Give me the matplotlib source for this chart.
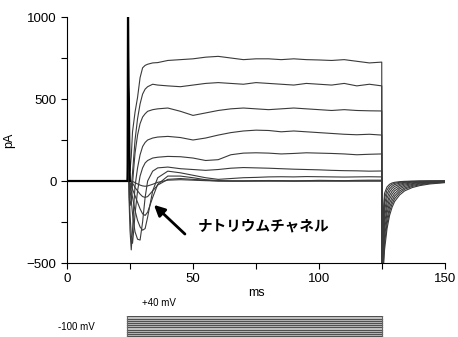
import numpy as np
import matplotlib.pyplot as plt
from matplotlib.ticker import MultipleLocator

# time points (ms)
t_pre = [0, 24]
t_on = [24, 24.3, 24.6, 25, 25.5, 26, 26.5, 27, 28, 29, 30, 31, 32, 34, 36, 40, 45,
        50, 55, 60, 65, 70, 75, 80, 85, 90, 95, 100, 105, 110, 115, 120, 124.9]
t_tail = [125, 125.3, 126, 127, 128, 129, 130, 132, 134, 137, 140, 144, 150]

# currents during the step (pA), one list per step voltage
on_currents = [
    [0, 1000, 200, 60, 150, 300, 360, 420, 510, 630, 690, 705, 712, 720, 722, 735, 740,
     745, 755, 760, 750, 740, 745, 745, 740, 745, 740, 738, 735, 740, 730, 720, 725],
    [0, 1000, 100, -60, -40, 50, 150, 250, 380, 470, 530, 560, 575, 590, 585, 580, 575,
     585, 595, 600, 595, 590, 600, 595, 590, 585, 595, 590, 585, 595, 580, 590, 580],
    [0, 800, 50, -150, -120, -20, 80, 170, 280, 350, 390, 410, 425, 435, 440, 445, 425,
     400, 415, 430, 440, 445, 440, 435, 440, 445, 440, 435, 430, 435, 430, 428, 427],
    [0, 600, -100, -300, -420, -300, -150, -30, 80, 160, 210, 235, 250, 262, 268, 272, 265,
     250, 262, 280, 295, 305, 310, 308, 300, 305, 300, 295, 290, 285, 282, 285, 280],
    [0, 500, -50, -200, -330, -380, -300, -200, -60, 30, 80, 110, 125, 140, 145, 150, 148,
     140, 125, 130, 160, 170, 172, 170, 165, 168, 172, 170, 168, 165, 160, 163, 165],
    [0, 300, 0, -50, -120, -200, -260, -310, -355, -360, -250, -100, 0, 60, 80, 85, 75,
     70, 65, 70, 78, 82, 80, 78, 75, 72, 70, 68, 65, 63, 62, 60, 61],
    [0, 200, 0, -20, -60, -100, -140, -180, -240, -280, -300, -290, -220, -60, 20, 60, 50,
     35, 20, 10, 15, 20, 22, 25, 26, 25, 27, 26, 25, 24, 25, 26, 25],
    [0, 150, 0, -10, -30, -50, -70, -90, -130, -170, -200, -210, -190, -100, -20, 30, 30,
     20, 8, 3, 0, 0, 2, 3, 2, 0, 2, 4, 3, 2, 4, 5, 5],
    [0, 100, 0, 0, -5, -15, -25, -40, -60, -80, -95, -100, -95, -60, -25, 10, 15,
     10, 5, 0, 0, 0, 0, 0, 0, 0, 0, 0, 0, 0, 0, 0, 0],
    [0, 60, 0, 0, 0, -3, -6, -10, -18, -25, -30, -32, -30, -20, -8, 5, 8,
     5, 2, 0, 0, 0, 0, 0, 0, 0, 0, 0, 0, 0, 0, 0, 0],
]

# tail currents after repolarisation (pA)
tail_currents = [
    [-700, -600, -420, -290, -210, -160, -125, -85, -60, -40, -28, -18, -10],
    [-650, -560, -380, -260, -185, -140, -108, -72, -50, -33, -23, -14, -8],
    [-600, -520, -340, -230, -160, -120, -92, -60, -42, -27, -18, -11, -6],
    [-560, -480, -300, -195, -135, -100, -76, -48, -33, -21, -14, -8, -5],
    [-520, -440, -260, -165, -110, -80, -60, -38, -25, -16, -10, -6, -3],
    [-500, -400, -220, -135, -88, -62, -46, -28, -18, -11, -7, -4, -2],
    [-480, -360, -180, -105, -66, -46, -33, -20, -12, -7, -4, -2, -1],
    [-460, -320, -140, -78, -48, -32, -22, -13, -8, -4, -2, -1, 0],
    [-440, -280, -105, -55, -32, -20, -14, -8, -4, -2, -1, 0, 0],
    [-420, -240, -75, -36, -20, -12, -8, -4, -2, -1, 0, 0, 0],
]

# capacitive transient at step onset (pA)
spike_t = [24, 24.15, 24.3, 24.45, 24.6, 24.8, 25.0]
spike_pA = [0, 1000, 1000, 580, 500, 150, 0]

# voltage protocol (mV)
step_mV = [-50, -40, -30, -20, -10, 0, 10, 20, 30, 40]
step_start, step_end = 24, 125

plt.rcParams['font.family'] = ['Liberation Sans', 'DejaVu Sans']

fig = plt.figure(figsize=(4.58, 3.37), dpi=100)
ax = fig.add_axes([67 / 458, 1 - 263 / 337, 378 / 458, 246 / 337])

for on, tail in zip(on_currents, tail_currents):
    t = t_pre + t_on + t_tail
    y = [0, 0] + on + tail
    ax.plot(t, y, color='#3a3a3a', lw=0.8)
ax.plot(t_pre, [0, 0], color='black', lw=1.6)
ax.plot(spike_t, spike_pA, color='black', lw=1.4)

ax.set_xlim(0, 150)
ax.set_ylim(-500, 1000)
ax.spines['top'].set_visible(False)
ax.spines['right'].set_visible(False)
ax.xaxis.set_major_locator(MultipleLocator(50))
ax.xaxis.set_minor_locator(MultipleLocator(25))
ax.yaxis.set_major_locator(MultipleLocator(500))
ax.yaxis.set_minor_locator(MultipleLocator(250))
ax.tick_params(which='both', direction='out', length=4, width=0.8, labelsize=9.5)
ax.set_xlabel('ms', fontsize=9, labelpad=1)
ax.set_ylabel('pA', fontsize=9, labelpad=8)

ax.annotate('', xy=(33.7, -134), xytext=(47.6, -335),
            arrowprops=dict(arrowstyle='-|>', color='black', lw=2, mutation_scale=16))
ax.text(78, -270, 'ナトリウムチャネル', fontsize=10.5, fontweight='bold',
        family=['Noto Sans CJK JP', 'DejaVu Sans'], ha='center', va='center')

# protocol panel
ax2 = fig.add_axes([67 / 458, 0, 378 / 458, 21 / 337])
ax2.set_xlim(0, 150)
ax2.set_ylim(-53, 42)
ax2.fill_between([step_start, step_end], -53, 42, color='#cfcfcf', lw=0)
for v in step_mV:
    ax2.plot([step_start, step_end], [v, v], color='#505050', lw=0.9)
ax2.plot([step_start, step_start], [-53, 42], color='#666666', lw=0.8)
ax2.plot([step_end, step_end], [-53, 42], color='#666666', lw=0.8)
ax2.axis('off')

fig.text(142 / 458, 1 - 303 / 337, '+40 mV', fontsize=7, va='center')
fig.text(95 / 458, 1 - 327 / 337, '-100 mV', fontsize=7, va='center', ha='right')

fig.savefig('out.png', dpi=100)
